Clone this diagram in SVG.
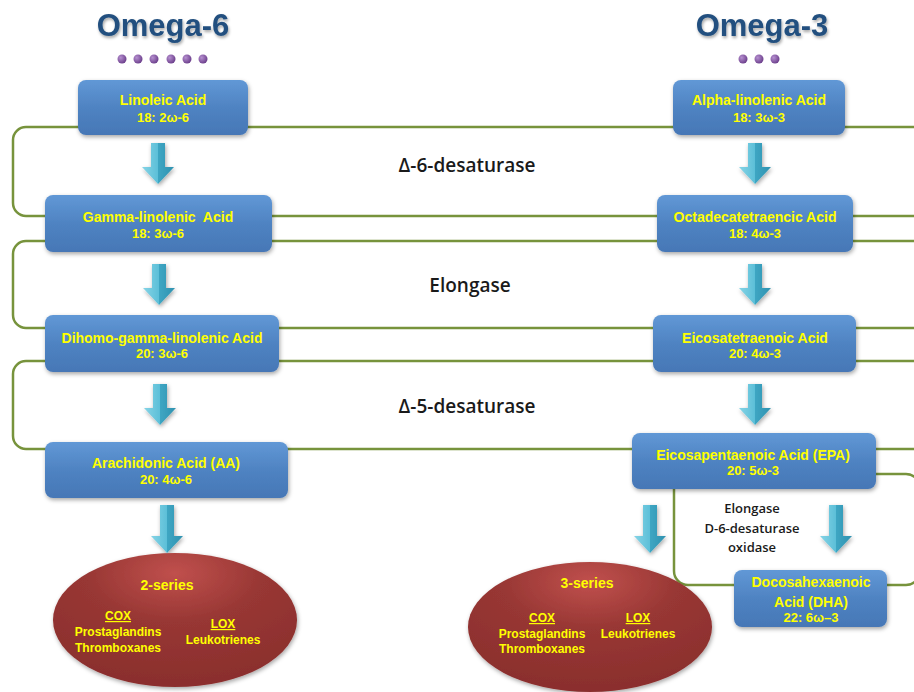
<svg xmlns="http://www.w3.org/2000/svg" width="914" height="692" viewBox="0 0 914 692">
<defs>
<linearGradient id="boxG" x1="0" y1="0" x2="0" y2="1">
<stop offset="0" stop-color="#6198d6"/>
<stop offset="0.5" stop-color="#4f83c2"/>
<stop offset="1" stop-color="#4677b6"/>
</linearGradient>
<linearGradient id="arrG" x1="0" y1="0" x2="1" y2="0">
<stop offset="0" stop-color="#86d4e6"/>
<stop offset="0.5" stop-color="#5cbfd8"/>
<stop offset="0.5" stop-color="#3ea6c3"/>
<stop offset="1" stop-color="#2f92b0"/>
</linearGradient>
<radialGradient id="ellG" cx="0.5" cy="0.15" r="0.8">
<stop offset="0" stop-color="#c0504d"/>
<stop offset="0.45" stop-color="#983734"/>
<stop offset="1" stop-color="#8b2f2d"/>
</radialGradient>
<radialGradient id="dotG" cx="0.35" cy="0.35" r="0.7">
<stop offset="0" stop-color="#b690d0"/>
<stop offset="1" stop-color="#6a3d8a"/>
</radialGradient>
<filter id="sh" x="-10%" y="-10%" width="130%" height="140%">
<feDropShadow dx="1" dy="2" stdDeviation="2" flood-color="#000" flood-opacity="0.35"/>
</filter>
<filter id="tsh" x="-10%" y="-20%" width="130%" height="150%">
<feDropShadow dx="1" dy="2" stdDeviation="1.5" flood-color="#000" flood-opacity="0.35"/>
</filter>
<path id="arr" d="M-7,0 H7 V24 H16 L0,41 L-16,24 H-7 Z"/>
<path id="arrL" d="M-7,0 H7 V31 H16 L0,48 L-16,31 H-7 Z"/>
</defs>
<style>
.br{fill:none;stroke:#77933c;stroke-width:2.5}
.box{fill:url(#boxG);filter:url(#sh)}
.t{font-family:"Liberation Sans",Arial,sans-serif;font-weight:bold;fill:#ffff00;text-anchor:middle}
.t1{font-size:14px}
.t2{font-size:13px}
.e{font-size:12px}
.es{font-size:14px}
.u{text-decoration:underline}
.lab{font-family:"Open Sans","Noto Sans",sans-serif;font-weight:600;fill:#1a1a1a;text-anchor:middle}
.om{font-family:"Liberation Sans",Arial,sans-serif;font-weight:bold;font-size:31px;fill:#23507f;text-anchor:middle;filter:url(#tsh)}
.ar{fill:url(#arrG);filter:url(#sh)}
.ell{fill:url(#ellG);filter:url(#sh)}
.dot{fill:url(#dotG)}
</style>
<rect width="914" height="692" fill="#ffffff"/>

<g id="connectors">
<rect class="br" x="13" y="127" width="920" height="89" rx="13"/>
<rect class="br" x="13" y="241" width="920" height="87" rx="13"/>
<rect class="br" x="13" y="361" width="920" height="88" rx="13"/>
<rect class="br" x="674" y="474" width="246" height="111" rx="14"/>
<use href="#arr" class="ar" x="158" y="143"/>
<use href="#arr" class="ar" x="159" y="264"/>
<use href="#arr" class="ar" x="160" y="384"/>
<use href="#arrL" class="ar" x="167" y="505"/>
<use href="#arr" class="ar" x="755" y="143"/>
<use href="#arr" class="ar" x="755" y="264"/>
<use href="#arr" class="ar" x="755" y="384"/>
<use href="#arrL" class="ar" x="650" y="505"/>
<use href="#arrL" class="ar" x="836" y="505"/>
</g>

<g id="titles">
<text class="om" x="163" y="36">Omega-6</text>
<text class="om" x="762" y="36">Omega-3</text>
<circle class="dot" cx="122" cy="59" r="4.5"/>
<circle class="dot" cx="138" cy="59" r="4.5"/>
<circle class="dot" cx="154" cy="59" r="4.5"/>
<circle class="dot" cx="171" cy="59" r="4.5"/>
<circle class="dot" cx="187" cy="59" r="4.5"/>
<circle class="dot" cx="203" cy="59" r="4.5"/>
<circle class="dot" cx="743" cy="59" r="4.5"/>
<circle class="dot" cx="759" cy="59" r="4.5"/>
<circle class="dot" cx="775" cy="59" r="4.5"/>
</g>

<g id="enzymes">
<text class="lab" x="467" y="172" font-size="19">Δ-6-desaturase</text>
<text class="lab" x="470" y="292" font-size="19">Elongase</text>
<text class="lab" x="467" y="413" font-size="19">Δ-5-desaturase</text>
<text class="lab" x="752" y="513" font-size="13">Elongase</text>
<text class="lab" x="752" y="533" font-size="13">D-6-desaturase</text>
<text class="lab" x="752" y="552" font-size="13">oxidase</text>
</g>

<g id="linoleic">
<rect class="box" x="78" y="80" width="170" height="55" rx="8"/>
<text class="t t1" x="163" y="105">Linoleic Acid</text>
<text class="t t2" x="163" y="122">18: 2ω-6</text>
</g>
<g id="alpha-linolenic">
<rect class="box" x="673" y="80" width="172" height="55" rx="8"/>
<text class="t t1" x="759" y="105">Alpha-linolenic Acid</text>
<text class="t t2" x="759" y="122">18: 3ω-3</text>
</g>
<g id="gamma-linolenic">
<rect class="box" x="45" y="195" width="227" height="57" rx="8"/>
<text class="t t1" x="158" y="222" xml:space="preserve">Gamma-linolenic  Acid</text>
<text class="t t2" x="158" y="238">18: 3ω-6</text>
</g>
<g id="octadecatetraencic">
<rect class="box" x="657" y="195" width="196" height="57" rx="8"/>
<text class="t t1" x="755" y="222">Octadecatetraencic Acid</text>
<text class="t t2" x="755" y="238">18: 4ω-3</text>
</g>
<g id="dihomo">
<rect class="box" x="45" y="315" width="234" height="57" rx="8"/>
<text class="t t1" x="162" y="343">Dihomo-gamma-linolenic Acid</text>
<text class="t t2" x="162" y="358">20: 3ω-6</text>
</g>
<g id="eicosatetraenoic">
<rect class="box" x="653" y="315" width="203" height="57" rx="8"/>
<text class="t t1" x="755" y="343">Eicosatetraenoic Acid</text>
<text class="t t2" x="755" y="358">20: 4ω-3</text>
</g>
<g id="arachidonic">
<rect class="box" x="45" y="442" width="243" height="56" rx="8"/>
<text class="t t1" x="166" y="468">Arachidonic Acid (AA)</text>
<text class="t t2" x="166" y="484">20: 4ω-6</text>
</g>
<g id="epa">
<rect class="box" x="632" y="433" width="244" height="56" rx="8"/>
<text class="t t1" x="753" y="460">Eicosapentaenoic Acid (EPA)</text>
<text class="t t2" x="753" y="475">20: 5ω-3</text>
</g>
<g id="dha">
<rect class="box" x="734" y="570" width="153" height="57" rx="8"/>
<text class="t t1" x="811" y="587" font-size="14.5">Docosahexaenoic</text>
<text class="t t1" x="811" y="607" font-size="14.5">Acid (DHA)</text>
<text class="t t2" x="811" y="622">22: 6ω–3</text>
</g>

<g id="series2">
<ellipse class="ell" cx="175" cy="620" rx="122" ry="67"/>
<text class="t es" x="167" y="590">2-series</text>
<text class="t e u" x="118" y="620">COX</text>
<text class="t e" x="118" y="636">Prostaglandins</text>
<text class="t e" x="118" y="652">Thromboxanes</text>
<text class="t e u" x="223" y="628">LOX</text>
<text class="t e" x="223" y="644">Leukotrienes</text>
</g>
<g id="series3">
<ellipse class="ell" cx="590" cy="627" rx="122" ry="65"/>
<text class="t es" x="587" y="588">3-series</text>
<text class="t e u" x="542" y="622">COX</text>
<text class="t e" x="542" y="638">Prostaglandins</text>
<text class="t e" x="542" y="653">Thromboxanes</text>
<text class="t e u" x="638" y="622">LOX</text>
<text class="t e" x="638" y="638">Leukotrienes</text>
</g>
</svg>
